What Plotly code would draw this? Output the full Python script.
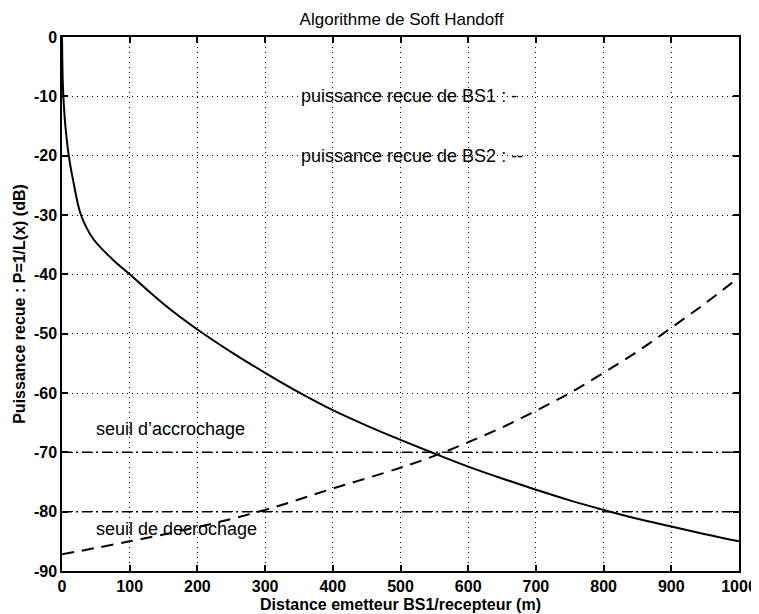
import plotly.graph_objects as go

# BS1 received power (solid)
x_bs1 = [0, 0.5, 1, 2, 5, 10, 17, 28, 46, 74, 100, 150, 200, 250, 300, 350, 400,
         450, 500, 550, 600, 650, 700, 750, 800, 850, 900, 950, 1000]
p_bs1 = [0, -4, -7, -10, -15, -20, -24.5, -30, -34, -37.4, -40, -45, -49.3, -53.1, -56.6,
         -59.9, -62.9, -65.5, -67.9, -70.2, -72.4, -74.4, -76.3, -78.1, -79.7, -81.2, -82.5,
         -83.8, -85]

# BS2 received power (dashed)
x_bs2 = [0, 100, 200, 300, 400, 500, 550, 600, 650, 700, 750, 800, 850, 900, 950, 1000]
p_bs2 = [-87.2, -85, -82.6, -79.7, -76.1, -72.6, -70.6, -68.3, -65.8, -63, -60, -56.6,
         -53, -49, -44.9, -40.5]

# thresholds
seuil_accrochage = -70
seuil_decrochage = -80
x_range = [0, 1000]

x_ticks = [0, 100, 200, 300, 400, 500, 600, 700, 800, 900, 1000]
y_ticks = [0, -10, -20, -30, -40, -50, -60, -70, -80, -90]

FONT = "Liberation Sans, Arial, sans-serif"

fig = go.Figure()
fig.add_trace(go.Scatter(x=x_range, y=[seuil_accrochage] * 2, mode="lines",
                         line=dict(color="black", width=1.5, dash="10px,4px,2px,4px"),
                         showlegend=False))
fig.add_trace(go.Scatter(x=x_range, y=[seuil_decrochage] * 2, mode="lines",
                         line=dict(color="black", width=1.5, dash="10px,4px,2px,4px"),
                         showlegend=False))
fig.add_trace(go.Scatter(x=x_bs1, y=p_bs1, mode="lines", line_shape="spline",
                         line=dict(color="black", width=2), showlegend=False))
fig.add_trace(go.Scatter(x=x_bs2, y=p_bs2, mode="lines", line_shape="spline",
                         line=dict(color="black", width=2, dash="12px,8px"), showlegend=False))

annots = [
    (353, -10, "puissance recue de BS1 : -"),
    (353, -20, "puissance recue de BS2 : --"),
    (50, -66, "seuil d\u2019accrochage"),
    (50, -83, "seuil de decrochage"),
]
for ax_, ay_, t in annots:
    fig.add_annotation(x=ax_, y=ay_, text=t, showarrow=False, xanchor="left",
                       yanchor="middle", xshift=-2,
                       font=dict(family=FONT, size=18, color="black"))

# x axis title placed as paper annotation so it sits below the tick labels
fig.add_annotation(x=0.5, y=0, xref="paper", yref="paper", yanchor="top", xanchor="center",
                   yshift=-23, showarrow=False,
                   text="Distance emetteur BS1/recepteur (m)",
                   font=dict(family=FONT, size=16, color="black", weight="bold"))

axis_common = dict(showline=True, linecolor="black", linewidth=1.5, mirror="ticks",
                   ticks="inside", ticklen=6, tickcolor="black", tickwidth=1.5,
                   showgrid=True, gridcolor="black", gridwidth=1, griddash="1px,4px",
                   zeroline=False, automargin=False,
                   tickfont=dict(family=FONT, size=16, color="black", weight="bold"))

fig.update_xaxes(range=[0, 1000], tickvals=x_ticks, ticktext=[str(v) for v in x_ticks],
                 **axis_common)
fig.update_yaxes(range=[-90, 0], tickvals=y_ticks, ticktext=[str(v) for v in y_ticks],
                 title=dict(text="Puissance recue : P=1/L(x) (dB)", standoff=4,
                            font=dict(family=FONT, size=16, color="black", weight="bold")),
                 **axis_common)

fig.update_layout(
    width=751, height=606,
    margin=dict(l=54, r=20, t=29, b=43),
    paper_bgcolor="white", plot_bgcolor="white",
    title=dict(text="Algorithme de Soft Handoff", x=0.524, xanchor="center",
               y=0.982, yanchor="middle",
               font=dict(family=FONT, size=17, color="black")),
)

fig.write_html("out.html")
